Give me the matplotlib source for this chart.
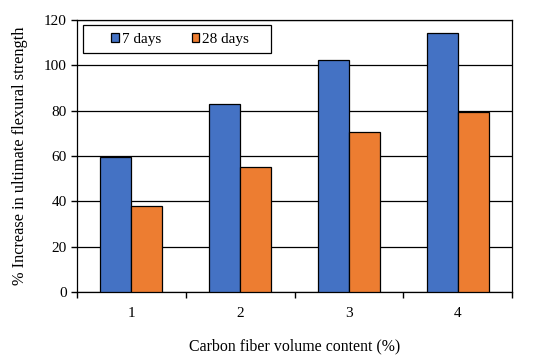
import matplotlib
matplotlib.use("Agg")
import matplotlib.pyplot as plt
from matplotlib.patches import Rectangle
import numpy as np

plt.rcParams['font.family'] = ['Liberation Serif', 'DejaVu Serif']

categories = ["1", "2", "3", "4"]
days7 = [59.5, 83.0, 102.5, 114.5]
days28 = [38.0, 55.0, 70.5, 79.5]
series_labels = ["7 days", "28 days"]
yticks = [0, 20, 40, 60, 80, 100, 120]

fig = plt.figure(figsize=(5.5, 3.6), dpi=100)
ax = fig.add_axes([0.14, 0.189, 0.791, 0.755])

x = np.arange(1, len(categories) + 1)
w = 0.285
ax.bar(x - w/2, days7, w, color='#4472C4', edgecolor='black', linewidth=0.9, label=series_labels[0], zorder=3)
ax.bar(x + w/2, days28, w, color='#ED7D31', edgecolor='black', linewidth=0.9, label=series_labels[1], zorder=3)

ax.set_xlim(0.5, len(categories) + 0.5)
ax.set_ylim(0, 120)
ax.set_yticks(yticks)
ax.set_xticks(x)
ax.set_xticklabels(categories)
ax.set_xticks(np.arange(0.5, len(categories) + 1, 1), minor=True)
ax.tick_params(axis='x', which='major', length=0, pad=11, labelsize=11)
ax.tick_params(axis='x', which='minor', length=4, width=1, direction='out')
ax.tick_params(axis='y', length=4, width=1, direction='out', labelsize=11)

ax.yaxis.grid(True, color='black', linewidth=0.9, zorder=0)
ax.set_axisbelow(True)
for s in ax.spines.values():
    s.set_color('black')
    s.set_linewidth(0.9)

ax.set_xlabel("Carbon fiber volume content (%)", fontsize=11.4, labelpad=13)
ax.set_ylabel("% Increase in ultimate flexural strength", fontsize=11.8, labelpad=11)

# legend box
box = Rectangle((0.0138, 0.879), 0.432, 0.103, transform=ax.transAxes,
                facecolor='white', edgecolor='black', linewidth=0.9, zorder=4)
ax.add_patch(box)

leg = ax.legend(ncol=2, loc='center', bbox_to_anchor=(0.237, 0.930), frameon=False,
                fontsize=11, handlelength=0.5, handleheight=0.5, handletextpad=0.2,
                columnspacing=2.0, borderpad=0.0, borderaxespad=0.0)
leg.set_zorder(5)

fig.savefig("out.png", dpi=100, facecolor='white')
